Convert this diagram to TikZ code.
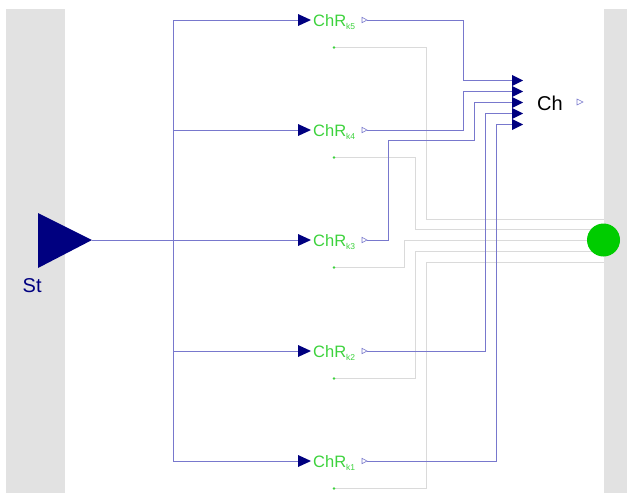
\documentclass[tikz,border=0pt]{standalone}
\usepackage{fontspec}
\setmainfont{Liberation Sans}
\usetikzlibrary{calc}
\definecolor{wire}{RGB}{120,120,205}
\definecolor{navy}{RGB}{0,0,128}
\definecolor{lgreen}{RGB}{60,210,60}
\definecolor{band}{RGB}{226,226,226}
\definecolor{gwire}{RGB}{218,218,218}
\definecolor{bigdot}{RGB}{0,204,0}
\tikzset{
  bus/.style={draw=wire,line width=0.9pt},
  gray wire/.style={draw=gwire,line width=1pt},
  intip/.style={fill=navy,draw=none},
  outtip/.style={draw=wire,fill=white,line width=0.6pt},
  lbl/.style={inner sep=0pt,anchor=base west},
}
\begin{document}
\begin{tikzpicture}[x=1pt,y=-1pt]
\useasboundingbox (0,0) rectangle (627,493);
\fill[band] (6,9) rectangle (65,493);
\fill[band] (604,9) rectangle (627,493);

% St source
\fill[navy] (38,213) -- (38,268) -- (92,240) -- cycle;
\coordinate (st) at (92,240);
\node[lbl,text=navy,font=\fontsize{20}{20}\selectfont] (stl) at (22.5,292.5) {St};

% Ch block inputs
\foreach \j/\yy in {1/80.5,2/91.5,3/102.5,4/113.5,5/124.5}{
  \coordinate (cin\j) at (512,\yy);
}
\node[lbl,text=black,font=\fontsize{20}{20}\selectfont] (chl) at (537,110) {Ch};
\draw[outtip] (577,99) -- (577,105) -- (583,102) -- cycle;
\coordinate (chout) at (583,102);

% rows
\foreach \i/\yy/\dy in {5/20/47.5,4/130/157.5,3/240/267.5,2/351/378.5,1/461/488.5}{
  \coordinate (bus\i) at (173,\yy);
  \coordinate (in\i) at (298,\yy);
  \coordinate (out\i) at (367,\yy);
  \coordinate (dot\i) at (334,\dy);
}

% gray sensor wires (drawn first)
\coordinate (g5) at (604,219);
\coordinate (g4) at (604,229.5);
\coordinate (g3) at (604,240);
\coordinate (g2) at (604,251.5);
\coordinate (g1) at (604,262.5);
\draw[gray wire] (dot5) -- ++(92,0) |- (g5);
\draw[gray wire] (dot4) -- ++(81,0) |- (g4);
\draw[gray wire] (dot3) -- ++(70,0) |- (g3);
\draw[gray wire] (dot2) -- ++(81,0) |- (g2);
\draw[gray wire] (dot1) -- ++(92,0) |- (g1);

% big green connector
\fill[bigdot] (603.5,240) circle[radius=16.5];
\node[inner sep=0pt,minimum size=0pt] (sink) at (603.5,240) {};

% input bus
\draw[bus] (st) -- (bus3);
\draw[bus] (bus5) -- (bus1);
\foreach \i in {1,...,5}{
  \draw[bus] (bus\i) -- (in\i);
}

% output wires to Ch
\draw[bus] (out5) -- ++(96,0) |- (cin1);
\draw[bus] (out4) -- ++(96,0) |- (cin2);
\draw[bus] (out3) -- ++(21,0) -- ++(0,-99.5) -- ++(86,0) |- (cin3);
\draw[bus] (out2) -- ++(118,0) |- (cin4);
\draw[bus] (out1) -- ++(129,0) |- (cin5);

% Ch input tips
\foreach \j in {1,...,5}{
  \fill[intip] (cin\j) ++(0,-5.6) -- ++(0,11.2) -- ++(11,-5.6) -- cycle;
}

% row elements
\foreach \i in {1,...,5}{
  \fill[intip] (in\i) ++(0,-6) -- ++(0,12) -- ++(13,-6) -- cycle;
  \node[lbl,text=lgreen,font=\fontsize{16.5}{16.5}\selectfont] (chr\i) at ($(in\i)+(15,6)$)
    {ChR\raisebox{-3pt}{\fontsize{8.5}{8.5}\selectfont k\i}};
  \draw[outtip] (out\i) ++(-5,-2.7) -- ++(0,5.4) -- ++(5,-2.7) -- cycle;
  \fill[lgreen] (dot\i) circle[radius=1.3];
}
\end{tikzpicture}
\end{document}
